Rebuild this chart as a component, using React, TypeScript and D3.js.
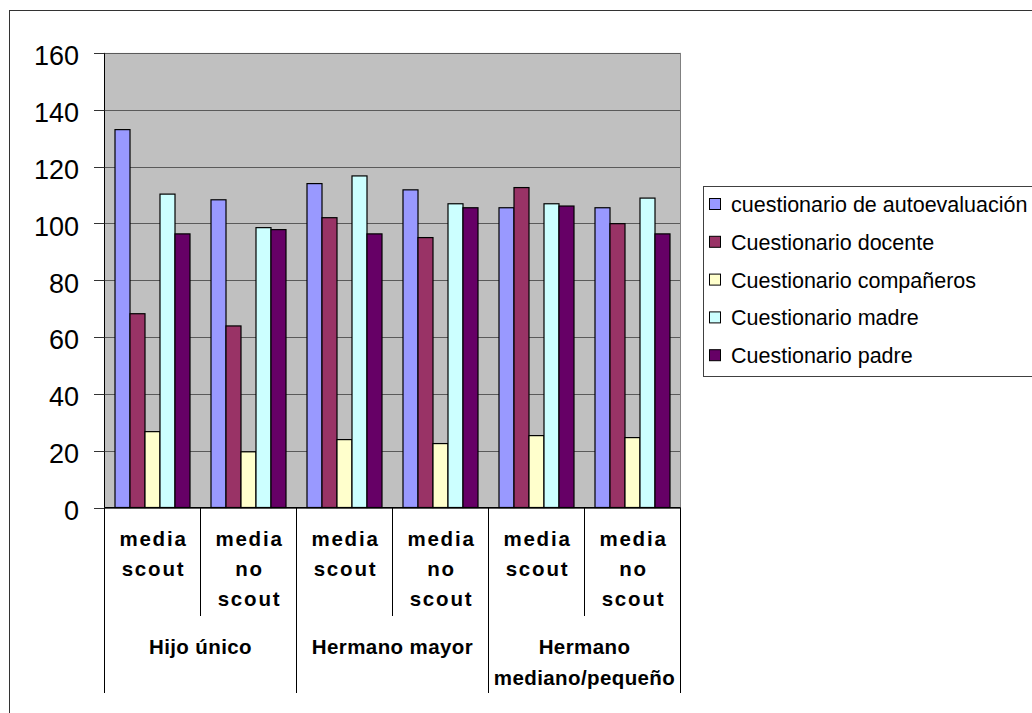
import React from "react";
import * as d3 from "d3";

// Column groups on the x axis (sub-category lines, then the family position they belong to)
const categories = ["c1", "c2", "c3", "c4", "c5", "c6"];
const categoryLines = [
  ["media", "scout"],
  ["media", "no", "scout"],
  ["media", "scout"],
  ["media", "no", "scout"],
  ["media", "scout"],
  ["media", "no", "scout"],
];
const groupLabels = [
  ["Hijo único"],
  ["Hermano mayor"],
  ["Hermano", "mediano/pequeño"],
];

const seriesNames = [
  "cuestionario de autoevaluación",
  "Cuestionario docente",
  "Cuestionario compañeros",
  "Cuestionario madre",
  "Cuestionario padre",
];
const seriesColors = ["#9999FF", "#993366", "#FFFFCC", "#CCFFFF", "#660066"];

// Values per series, one entry per column group
const autoevaluacion = [133, 108.3, 114, 111.8, 105.5, 105.5];
const docente = [68.2, 63.9, 102, 95, 112.6, 99.9];
const companeros = [26.7, 19.6, 23.9, 22.5, 25.3, 24.6];
const madre = [110.3, 98.5, 116.7, 106.9, 106.9, 108.9];
const padre = [96.3, 97.8, 96.3, 105.5, 106.1, 96.3];
const seriesValues = [autoevaluacion, docente, companeros, madre, padre];

const yTicks = [0, 20, 40, 60, 80, 100, 120, 140, 160];

const FONT = "'Liberation Sans', Arial, Helvetica, sans-serif";

export default function App() {
  const W = 1032;
  const H = 713;
  const plotLeft = 104.5;
  const plotRight = 680.5;
  const plotTop = 52.9;
  const plotBottom = 507.5;

  const y = d3.scaleLinear().domain([0, 160]).range([plotBottom, plotTop]);
  const x0 = d3.scaleBand<string>().domain(categories).range([plotLeft, plotRight]).padding(0);
  const x1 = d3
    .scaleBand<string>()
    .domain(seriesNames)
    .range([0, x0.bandwidth()])
    .paddingInner(0)
    .paddingOuter(0.7);

  const step = x0.step();
  const boundaries = d3.range(categories.length + 1).map((i) => plotLeft + i * step);

  return (
    <svg
      width={W}
      height={H}
      style={{ position: "absolute", left: 0, top: 0, background: "#fff" }}
      fontFamily={FONT}
    >
      {/* chart frame */}
      <rect x={9.5} y={10.5} width={1100} height={800} fill="#fff" stroke="#333" strokeWidth={1} />

      {/* plot area */}
      <rect x={plotLeft} y={plotTop} width={plotRight - plotLeft} height={plotBottom - plotTop} fill="#C0C0C0" />
      {yTicks.map((t) => (
        <line
          key={"g" + t}
          x1={plotLeft}
          x2={plotRight}
          y1={Math.round(y(t)) + 0.5}
          y2={Math.round(y(t)) + 0.5}
          stroke="#5a5a5a"
          strokeWidth={1}
        />
      ))}
      <line x1={plotRight} x2={plotRight} y1={plotTop} y2={plotBottom} stroke="#808080" strokeWidth={1} />

      {/* bars */}
      {seriesValues.map((vals, si) =>
        vals.map((v, ci) => {
          const bx = (x0(categories[ci]) as number) + (x1(seriesNames[si]) as number);
          return (
            <rect
              key={si + "-" + ci}
              x={bx}
              y={y(v)}
              width={x1.bandwidth()}
              height={y(0) - y(v)}
              fill={seriesColors[si]}
              stroke="#000"
              strokeWidth={1.2}
            />
          );
        })
      )}

      {/* y axis */}
      <line x1={plotLeft} x2={plotLeft} y1={plotTop} y2={plotBottom} stroke="#000" strokeWidth={1} />
      {yTicks.map((t) => (
        <g key={"t" + t}>
          <line x1={94} x2={plotLeft} y1={Math.round(y(t)) + 0.5} y2={Math.round(y(t)) + 0.5} stroke="#333" />
          <text x={79} y={y(t) + 12.4} fontSize={27} textAnchor="end" fill="#000">
            {t}
          </text>
        </g>
      ))}

      {/* x axis */}
      <line x1={plotLeft} x2={plotRight} y1={plotBottom} y2={plotBottom} stroke="#000" strokeWidth={1} />
      {boundaries.map((bx, i) => (
        <line
          key={"b" + i}
          x1={bx}
          x2={bx}
          y1={plotBottom}
          y2={i % 2 === 0 ? 693 : 616}
          stroke="#000"
          strokeWidth={1}
        />
      ))}
      {categories.map((c, ci) => {
        const cx = (x0(c) as number) + x0.bandwidth() / 2 + 1;
        return categoryLines[ci].map((ln, li) => (
          <text
            key={c + li}
            x={cx}
            y={546 + li * 30}
            fontSize={20.5}
            fontWeight="bold"
            letterSpacing={1.8}
            textAnchor="middle"
            fill="#000"
          >
            {ln}
          </text>
        ));
      })}
      {groupLabels.map((lines, gi) => {
        const cx = plotLeft + step * (gi * 2 + 1);
        return lines.map((ln, li) => (
          <text
            key={"grp" + gi + li}
            x={cx}
            y={654 + li * 31}
            fontSize={20.5}
            fontWeight="bold"
            letterSpacing={0.4}
            textAnchor="middle"
            fill="#000"
          >
            {ln}
          </text>
        ));
      })}

      {/* legend */}
      <rect x={703.5} y={186.5} width={400} height={190} fill="#fff" stroke="#404040" strokeWidth={1} />
      {seriesNames.map((s, i) => {
        const by = 212 + i * 37.8;
        return (
          <g key={"lg" + i}>
            <rect x={709.5} y={by - 13.5} width={11} height={11} fill={seriesColors[i]} stroke="#000" strokeWidth={1} />
            <text x={731} y={by} fontSize={21.5} fill="#000">
              {s}
            </text>
          </g>
        );
      })}
    </svg>
  );
}
